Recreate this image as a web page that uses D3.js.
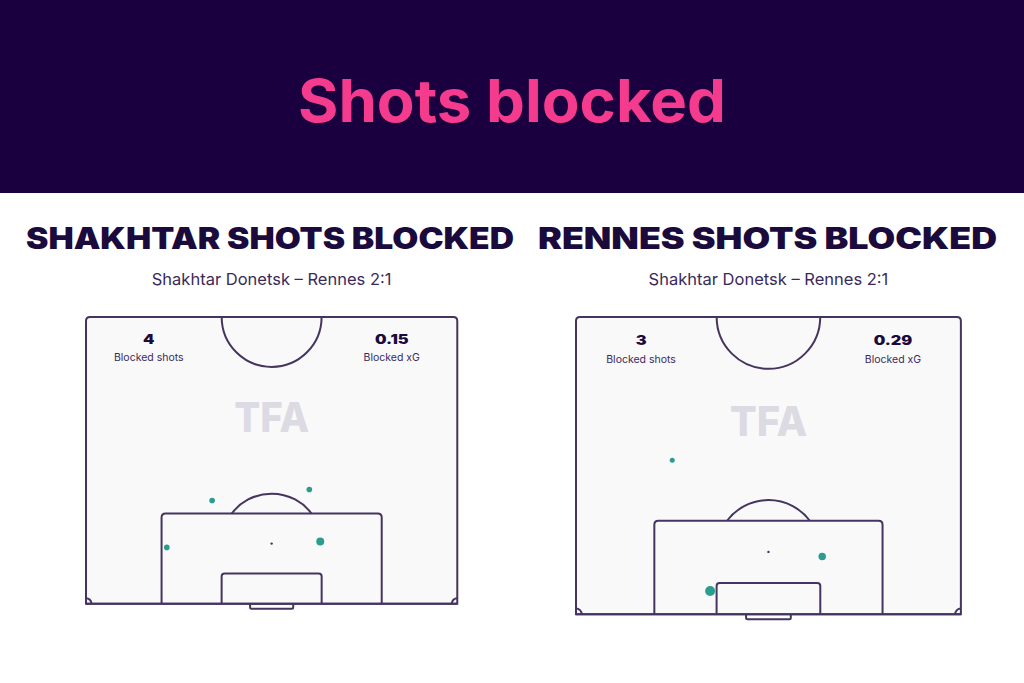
<!DOCTYPE html>
<html>
<head>
<meta charset="utf-8">
<script src="https://cdn.jsdelivr.net/npm/d3@7/dist/d3.min.js"></script>
<style>
  html, body { margin: 0; padding: 0; background: #ffffff; }
  svg { display: block; }
</style>
</head>
<body>
<svg id="chart" width="1024" height="683"></svg>
<script>
// ---------- DATA ----------
const pageTitle = "Shots blocked";
const panelTitles = ["SHAKHTAR SHOTS BLOCKED", "RENNES SHOTS BLOCKED"];
const matchLabel = "Shakhtar Donetsk – Rennes 2:1";
const blockedShots = [4, 3];
const blockedXG = ["0.15", "0.29"];
const statLabels = ["Blocked shots", "Blocked xG"];
// shots: x = metres across pitch from left touchline (0..68), y = metres from goal line, xg
const shakhtarShotX = [23.1, 40.9, 14.8, 42.9];
const shakhtarShotY = [18.9, 20.9, 10.3, 11.4];
const shakhtarShotXG = [0.03, 0.03, 0.03, 0.06];
const rennesShotX = [17.0, 43.5, 23.7];
const rennesShotY = [27.2, 10.2, 4.1];
const rennesShotXG = [0.04, 0.09, 0.16];

// ---------- LAYOUT ----------
const C = {
  bg: "#ffffff",
  band: "#1a003f",
  pink: "#f53b8d",
  ink: "#1b0a3c",
  sub: "#3a2a5a",
  line: "#45345f",
  pitch: "#f9f9fa",
  dot: "#2a9d8f",
  wm: "#dcdae2"
};
const PW = 68, PH = 52.5;
const panels = [
  { left: 86, top: 317, scale: 5.46, titleX0: 26, titleX1: 514, rMax: 4.0, xgMax: 0.06,
    shots: shakhtarShotX.map((x, i) => ({ x, y: shakhtarShotY[i], xg: shakhtarShotXG[i] })) },
  { left: 576, top: 317, scale: 5.66, titleX0: 538, titleX1: 997, rMax: 5.0, xgMax: 0.16,
    shots: rennesShotX.map((x, i) => ({ x, y: rennesShotY[i], xg: rennesShotXG[i] })) }
];

const svg = d3.select("#chart");
svg.append("rect").attr("width", 1024).attr("height", 683).attr("fill", C.bg);
svg.append("rect").attr("width", 1024).attr("height", 193).attr("fill", C.band);

svg.append("text")
  .attr("x", 512).attr("y", 122)
  .attr("text-anchor", "middle")
  .attr("font-family", "Inter, 'Open Sans', sans-serif")
  .attr("font-weight", 700)
  .attr("font-size", 59)
  .attr("fill", C.pink)
  .attr("textLength", 428).attr("lengthAdjust", "spacingAndGlyphs")
  .text(pageTitle);

panels.forEach((p, i) => {
  const g = svg.append("g");
  const x = d3.scaleLinear().domain([0, PW]).range([p.left, p.left + PW * p.scale]);
  const y = d3.scaleLinear().domain([0, PH]).range([p.top + PH * p.scale, p.top]);
  const s = p.scale;
  const midX = x(PW / 2);

  g.append("text")
    .attr("x", p.titleX0).attr("y", 249)
    .attr("font-family", "Inter, 'Open Sans', sans-serif")
    .attr("font-weight", 900)
    .attr("font-size", 29.5)
    .attr("fill", C.ink)
    .attr("textLength", p.titleX1 - p.titleX0)
    .attr("lengthAdjust", "spacingAndGlyphs")
    .text(panelTitles[i]);
  g.append("text")
    .attr("x", midX).attr("y", 285)
    .attr("text-anchor", "middle")
    .attr("font-family", "Inter, 'Open Sans', sans-serif")
    .attr("font-size", 16.5)
    .attr("fill", C.sub)
    .text(matchLabel);

  const x0 = x(0), x1 = x(PW), yT = y(PH), yB = y(0), rc = 4;
  g.append("path")
    .attr("d", `M${x0},${yB} L${x0},${yT + rc} Q${x0},${yT} ${x0 + rc},${yT} L${x1 - rc},${yT} Q${x1},${yT} ${x1},${yT + rc} L${x1},${yB} Z`)
    .attr("fill", C.pitch).attr("stroke", C.line).attr("stroke-width", 2);

  g.append("text")
    .attr("x", midX).attr("y", y(PH - 21.1))
    .attr("text-anchor", "middle")
    .attr("font-family", "Inter, 'Open Sans', sans-serif")
    .attr("font-weight", 800)
    .attr("font-size", 41)
    .attr("fill", C.wm)
    .attr("textLength", 13.7 * s)
    .attr("lengthAdjust", "spacingAndGlyphs")
    .text("TFA");

  const line = (sel) => sel.attr("fill", "none").attr("stroke", C.line).attr("stroke-width", 2);

  const ccR = 9.15 * s;
  const arc = d3.arc().innerRadius(ccR).outerRadius(ccR).startAngle(Math.PI / 2).endAngle(Math.PI * 1.5);
  g.append("path").attr("d", arc()).attr("transform", `translate(${midX},${yT})`).call(line);

  const spotY = y(11);
  const paR = 9.15 * s;
  const boxTop = y(16.5);
  const ang = Math.acos(Math.abs(boxTop - spotY) / paR);
  const parc = d3.arc().innerRadius(paR).outerRadius(paR).startAngle(-ang).endAngle(ang);
  g.append("path").attr("d", parc()).attr("transform", `translate(${midX},${spotY})`).call(line);

  const box = (wM, dM, r) => {
    const bx0 = x(PW / 2 - wM / 2), bx1 = x(PW / 2 + wM / 2), by = y(dM);
    return `M${bx0},${yB} L${bx0},${by + r} Q${bx0},${by} ${bx0 + r},${by} L${bx1 - r},${by} Q${bx1},${by} ${bx1},${by + r} L${bx1},${yB}`;
  };
  g.append("path").attr("d", box(40.32, 16.5, 4)).call(line);
  g.append("path").attr("d", box(18.32, 5.5, 3)).call(line);

  const gx0 = x(PW / 2 - 3.95), gx1 = x(PW / 2 + 3.95), gy = yB + 5;
  g.append("path")
    .attr("d", `M${gx0},${yB} L${gx0},${gy - 1.5} Q${gx0},${gy} ${gx0 + 1.5},${gy} L${gx1 - 1.5},${gy} Q${gx1},${gy} ${gx1},${gy - 1.5} L${gx1},${yB}`)
    .call(line);

  g.append("circle").attr("cx", midX).attr("cy", spotY).attr("r", 1.2).attr("fill", C.line);

  const cR = 1 * s;
  const ca1 = d3.arc().innerRadius(cR).outerRadius(cR).startAngle(0).endAngle(Math.PI / 2);
  const ca2 = d3.arc().innerRadius(cR).outerRadius(cR).startAngle(-Math.PI / 2).endAngle(0);
  g.append("path").attr("d", ca1()).attr("transform", `translate(${x0},${yB})`).call(line);
  g.append("path").attr("d", ca2()).attr("transform", `translate(${x1},${yB})`).call(line);
  g.append("line").attr("x1", x0).attr("x2", x1).attr("y1", yB).attr("y2", yB).call(line);

  const statX = [x(11.5), x(56)];
  const statVals = [String(blockedShots[i]), blockedXG[i]];
  statX.forEach((sx, k) => {
    g.append("text")
      .attr("transform", `translate(${sx},${y(PH - 4.9)}) scale(1.3,1)`)
      .attr("text-anchor", "middle")
      .attr("font-family", "Inter, 'Open Sans', sans-serif")
      .attr("font-weight", 900)
      .attr("font-size", 12.5)
      .attr("fill", C.ink)
      .text(statVals[k]);
    g.append("text")
      .attr("x", sx).attr("y", y(PH - 8.05))
      .attr("text-anchor", "middle")
      .attr("font-family", "Inter, 'Open Sans', sans-serif")
      .attr("font-size", 10.5)
      .attr("fill", C.sub)
      .text(statLabels[k]);
  });

  const r = d3.scaleSqrt().domain([0, p.xgMax]).range([0, p.rMax]);
  g.selectAll("circle.shot").data(p.shots).enter().append("circle")
    .attr("class", "shot")
    .attr("cx", d => x(d.x)).attr("cy", d => y(d.y))
    .attr("r", d => r(d.xg))
    .attr("fill", C.dot);
});
</script>
</body>
</html>
